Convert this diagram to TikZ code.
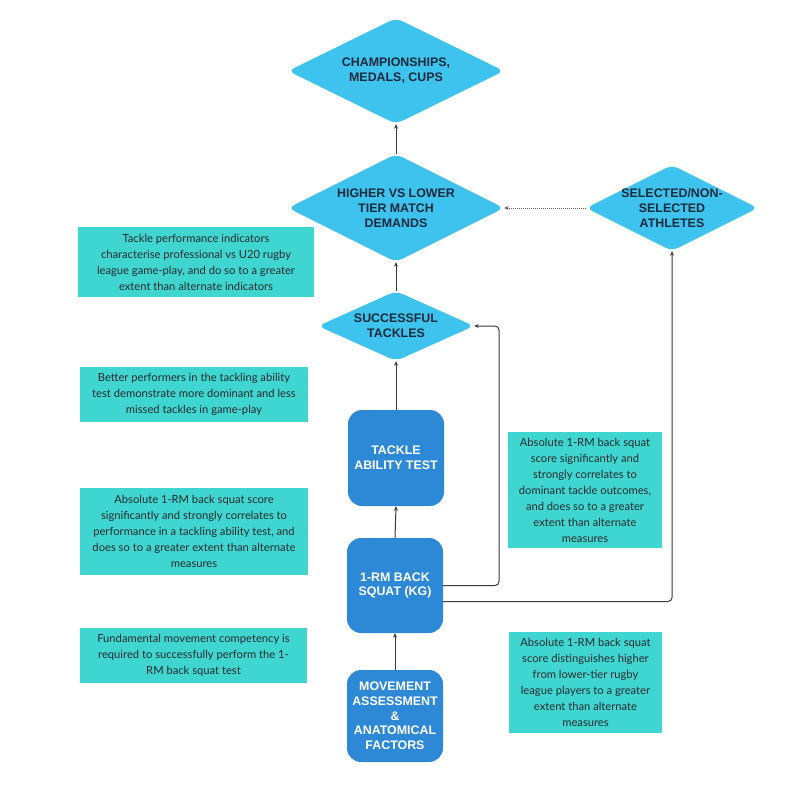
\documentclass[tikz,border=0pt]{standalone}
\usepackage{fontspec}
\setmainfont{Lato}
\newfontfamily\headfont{Liberation Sans}
\usetikzlibrary{shapes.geometric,arrows.meta}
\definecolor{dia}{HTML}{3EC2EE}
\definecolor{boxc}{HTML}{2D89D5}
\definecolor{notec}{HTML}{3FD6D2}
\definecolor{ink}{HTML}{1B2B3B}
\definecolor{linec}{HTML}{3A3A3A}
\definecolor{notetext}{HTML}{262A2C}
\begin{document}
\begin{tikzpicture}[x=1pt,y=-1pt,
  dshape/.style={diamond, fill=dia, inner sep=0pt, rounded corners=7pt},
  dtext/.style={font=\headfont\bfseries\fontsize{12.4}{15}\selectfont, text=ink, align=center, inner sep=0pt},
  bnode/.style={rectangle, rounded corners=14pt, fill=boxc, minimum width=96pt, inner sep=0pt,
    font=\headfont\bfseries\fontsize{12.4}{14.7}\selectfont, text=white, align=center},
  notebox/.style={rectangle, fill=notec, inner sep=0pt, font=\fontsize{11.2}{16}\selectfont,
    text=notetext, align=center},
  arr/.style={draw=linec, line width=1pt, -{Stealth[length=4.5pt,width=4pt]}, rounded corners=4pt}
]
\useasboundingbox (0,0) rectangle (800,800);
\fill[white] (0,0) rectangle (800,800);

% diamonds
\node[dshape, minimum width=216pt, minimum height=106pt] (d1) at (396,71) {};
\node[dtext] (d1t) at (d1.center) {CHAMPIONSHIPS,\\MEDALS, CUPS};
\node[dshape, minimum width=216pt, minimum height=108pt] (d2) at (396,208) {};
\node[dtext] (d2t) at (d2.center) {HIGHER VS LOWER\\TIER MATCH\\DEMANDS};
\node[dshape, minimum width=172pt, minimum height=86pt] (sel) at (672,208) {};
\node[dtext] (selt) at (sel.center) {SELECTED/NON-\\SELECTED\\ATHLETES};
\node[dshape, minimum width=156pt, minimum height=70pt] (d3) at (396,326) {};
\node[dtext] (d3t) at (d3.center) {SUCCESSFUL\\TACKLES};

% boxes
\node[bnode, minimum height=96pt] (tat) at (396,458) {TACKLE\\ABILITY TEST};
\node[bnode, minimum height=95pt] (sq) at (395,585.5) {1-RM BACK\\SQUAT (KG)};
\node[bnode, minimum height=92pt] (mv) at (395,716) {MOVEMENT\\ASSESSMENT\\\&\\ANATOMICAL\\FACTORS};

% notes
\node[notebox, minimum width=236pt, minimum height=70pt] (n1) at (196,262)
  {Tackle performance indicators\\characterise professional vs U20 rugby\\league game-play, and do so to a greater\\extent than alternate indicators};
\node[notebox, minimum width=228pt, minimum height=55pt] (n2) at (194,394.5)
  {Better performers in the tackling ability\\test demonstrate more dominant and less\\missed tackles in game-play};
\node[notebox, minimum width=228pt, minimum height=87pt] (n4) at (194,531.5)
  {Absolute 1-RM back squat score\\significantly and strongly correlates to\\performance in a tackling ability test, and\\does so to a greater extent than alternate\\measures};
\node[notebox, minimum width=227pt, minimum height=55pt] (n5) at (193.5,655.5)
  {Fundamental movement competency is\\required to successfully perform the 1-\\RM back squat test};
\node[notebox, minimum width=154pt, minimum height=116pt] (n3) at (585,490)
  {Absolute 1-RM back squat\\score significantly and\\strongly correlates to\\dominant tackle outcomes,\\and does so to a greater\\extent than alternate\\measures};
\node[notebox, minimum width=153pt, minimum height=101pt] (n6) at (585.5,682.5)
  {Absolute 1-RM back squat\\score distinguishes higher\\from lower-tier rugby\\league players to a greater\\extent than alternate\\measures};

% connectors
\draw[arr] (d2.north) -- (d1.south);
\draw[arr, draw=linec!80, densely dotted] (sel.west) -- (d2.east);
\draw[arr] (d3.north) -- (d2.south);
\draw[arr] (tat.north) -- (d3.south);
\draw[arr] (sq.north) -- (tat.south);
\draw[arr] (mv.north) -- (sq.south);
\coordinate (c1) at (499,326);
\draw[arr] (sq.east) -| (c1) -- (d3.east);
\draw[arr] ([yshift=-16pt]sq.east) -| (sel.south);
\end{tikzpicture}
\end{document}
